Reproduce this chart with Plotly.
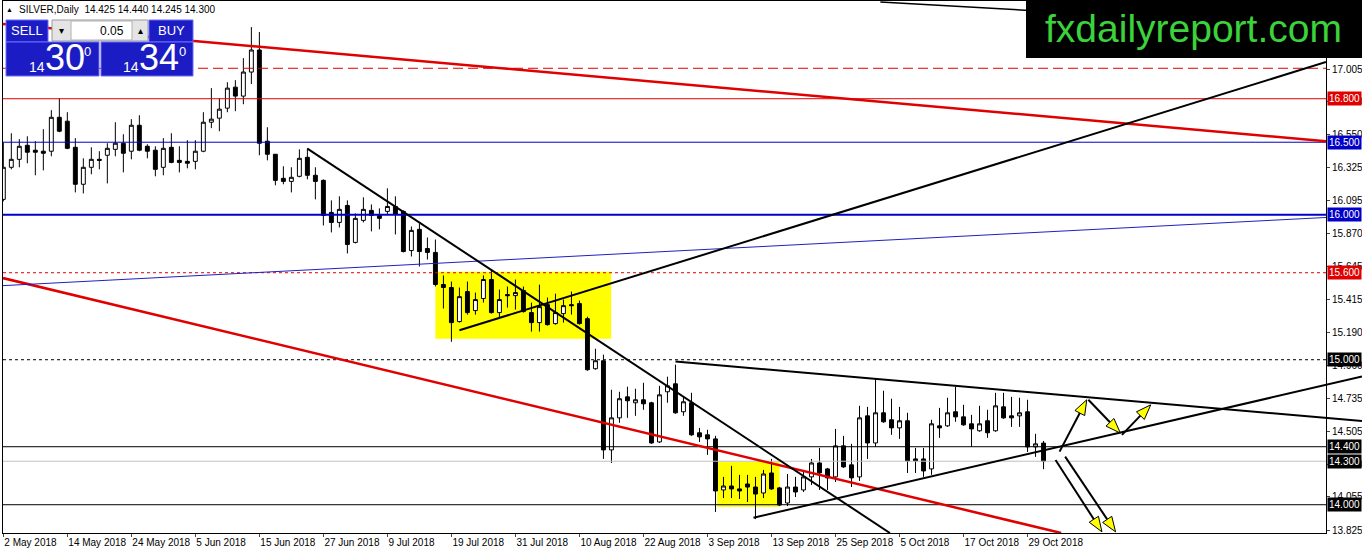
"""SILVER daily chart (MT4 style) rebuilt with plotly. Run: python plot.py"""
import pandas as pd
import plotly.graph_objects as go

# ---- data ----
OPEN = [16.106, 16.327, 16.382, 16.479, 16.445, 16.438, 16.438, 16.672, 16.645, 16.465,
        16.210, 16.327, 16.382, 16.410, 16.451, 16.493, 16.438, 16.617, 16.472, 16.445,
        16.327, 16.465, 16.375, 16.368, 16.368, 16.438, 16.638, 16.666, 16.735, 16.880,
        16.818, 16.984, 17.136, 16.507, 16.417, 16.251, 16.230, 16.265, 16.396, 16.272,
        16.237, 16.016, 15.947, 16.064, 15.809, 15.961, 16.030, 15.995, 16.023, 16.057,
        16.023, 15.753, 15.899, 15.767, 15.740, 15.519, 15.498, 15.263, 15.470, 15.339,
        15.422, 15.553, 15.325, 15.449, 15.442, 15.477, 15.325, 15.256, 15.380, 15.249,
        15.318, 15.380, 15.387, 15.283, 14.938, 14.993, 14.378, 14.599, 14.744, 14.703,
        14.724, 14.703, 14.433, 14.779, 14.834, 14.641, 14.703, 14.496, 14.482, 14.454,
        14.102, 14.129, 14.109, 14.143, 14.122, 14.081, 14.219, 14.116, 14.012, 14.122,
        14.102, 14.192, 14.288, 14.247, 14.192, 14.406, 14.275, 14.192, 14.613, 14.426,
        14.634, 14.586, 14.530, 14.579, 14.316, 14.316, 14.247, 14.544, 14.544, 14.641,
        14.606, 14.558, 14.510, 14.579, 14.510, 14.675, 14.613, 14.613, 14.641, 14.399,
        14.425]
HIGH = [16.500, 16.562, 16.521, 16.541, 16.507, 16.590, 16.721, 16.804, 16.707, 16.528,
        16.389, 16.465, 16.438, 16.493, 16.638, 16.555, 16.659, 16.686, 16.486, 16.472,
        16.528, 16.562, 16.472, 16.514, 16.514, 16.707, 16.873, 16.804, 16.914, 16.928,
        17.080, 17.294, 17.260, 16.603, 16.417, 16.334, 16.327, 16.451, 16.458, 16.327,
        16.244, 16.099, 16.127, 16.099, 16.009, 16.120, 16.071, 16.044, 16.182, 16.127,
        16.030, 15.919, 15.940, 15.843, 15.829, 15.581, 15.539, 15.498, 15.539, 15.463,
        15.581, 15.622, 15.484, 15.505, 15.553, 15.505, 15.394, 15.518, 15.429, 15.456,
        15.415, 15.470, 15.408, 15.297, 15.076, 15.035, 14.793, 14.779, 14.814, 14.800,
        14.841, 14.710, 14.820, 14.883, 14.966, 14.744, 14.772, 14.530, 14.517, 14.475,
        14.192, 14.268, 14.206, 14.206, 14.192, 14.240, 14.316, 14.123, 14.212, 14.192,
        14.240, 14.316, 14.392, 14.254, 14.523, 14.475, 14.420, 14.682, 14.675, 14.869,
        14.786, 14.731, 14.675, 14.634, 14.392, 14.392, 14.586, 14.668, 14.738, 14.814,
        14.689, 14.620, 14.682, 14.655, 14.772, 14.772, 14.744, 14.738, 14.724, 14.489,
        14.440]
LOW = [16.092, 16.313, 16.327, 16.355, 16.272, 16.306, 16.403, 16.569, 16.452, 16.154,
       16.147, 16.279, 16.313, 16.216, 16.403, 16.292, 16.382, 16.438, 16.389, 16.265,
       16.272, 16.355, 16.292, 16.320, 16.313, 16.431, 16.597, 16.576, 16.707, 16.714,
       16.762, 16.901, 16.410, 16.375, 16.203, 16.210, 16.154, 16.258, 16.244, 16.106,
       15.926, 15.878, 15.912, 15.733, 15.802, 15.947, 15.885, 15.899, 16.002, 15.864,
       15.740, 15.712, 15.643, 15.691, 15.505, 15.353, 15.124, 15.256, 15.311, 15.311,
       15.394, 15.318, 15.290, 15.359, 15.346, 15.325, 15.194, 15.194, 15.235, 15.242,
       15.256, 15.311, 15.242, 14.924, 14.931, 14.316, 14.288, 14.565, 14.599, 14.613,
       14.655, 14.420, 14.426, 14.703, 14.627, 14.613, 14.475, 14.433, 14.344, 13.950,
       14.046, 14.046, 14.040, 14.019, 13.901, 14.046, 14.102, 13.991, 13.991, 14.053,
       14.088, 14.136, 14.102, 14.102, 14.157, 14.254, 14.122, 14.164, 14.316, 14.399,
       14.565, 14.482, 14.454, 14.219, 14.219, 14.192, 14.206, 14.461, 14.537, 14.572,
       14.544, 14.399, 14.503, 14.461, 14.503, 14.592, 14.537, 14.537, 14.364, 14.330,
       14.245]
CLOSE = [16.327, 16.382, 16.472, 16.431, 16.431, 16.424, 16.672, 16.576, 16.458, 16.210,
         16.327, 16.382, 16.375, 16.458, 16.493, 16.424, 16.617, 16.445, 16.438, 16.313,
         16.458, 16.361, 16.361, 16.355, 16.438, 16.638, 16.659, 16.728, 16.873, 16.818,
         16.984, 17.136, 16.493, 16.417, 16.237, 16.230, 16.258, 16.389, 16.272, 16.230,
         15.995, 15.947, 16.037, 15.795, 15.975, 16.037, 15.995, 15.975, 16.057, 16.002,
         15.746, 15.892, 15.746, 15.740, 15.519, 15.498, 15.256, 15.435, 15.325, 15.415,
         15.553, 15.325, 15.415, 15.442, 15.463, 15.332, 15.256, 15.366, 15.242, 15.325,
         15.373, 15.373, 15.249, 14.931, 14.993, 14.378, 14.599, 14.731, 14.717, 14.724,
         14.696, 14.426, 14.758, 14.820, 14.634, 14.710, 14.482, 14.468, 14.454, 14.095,
         14.129, 14.109, 14.095, 14.122, 14.074, 14.212, 14.109, 13.998, 14.122, 14.088,
         14.192, 14.288, 14.219, 14.185, 14.406, 14.261, 14.185, 14.599, 14.426, 14.634,
         14.572, 14.530, 14.579, 14.302, 14.302, 14.233, 14.558, 14.530, 14.634, 14.606,
         14.551, 14.523, 14.558, 14.496, 14.682, 14.599, 14.599, 14.634, 14.399, 14.420,
         14.300]

DATES = pd.bdate_range("2018-05-02", periods=len(OPEN)).strftime("%d %b %Y").tolist()

# x tick labels every 8 bars
TICK_BARS = [0, 8, 16, 24, 32, 40, 48, 56, 64, 72, 80, 88, 96, 104, 112, 120, 128]
TICK_TEXT = ["2 May 2018", "14 May 2018", "24 May 2018", "5 Jun 2018", "15 Jun 2018",
             "27 Jun 2018", "9 Jul 2018", "19 Jul 2018", "31 Jul 2018", "10 Aug 2018",
             "22 Aug 2018", "3 Sep 2018", "13 Sep 2018", "25 Sep 2018", "5 Oct 2018",
             "17 Oct 2018", "29 Oct 2018"]
PRICE_TICKS = [17.005, 16.780, 16.550, 16.325, 16.095, 15.870, 15.645, 15.415,
               15.190, 14.960, 14.735, 14.505, 14.280, 14.055, 13.825]

# horizontal levels: price, colour, width, dash, tag background (None = no tag)
LEVELS = [
    (17.010, "#e00000", 1, "10px,5px", None),
    (16.800, "#e00000", 1, "solid", "#e00000"),
    (16.500, "#0000c8", 1, "solid", "#0000c8"),
    (16.000, "#0000c8", 2, "solid", "#0000c8"),
    (15.600, "#e00000", 1, "3px,3px", "#e00000"),
    (15.000, "#000000", 1, "3px,3px", "#000000"),
    (14.400, "#000000", 1, "solid", "#000000"),
    (14.300, "#c0c0c0", 1, "solid", "#000000"),
    (14.000, "#000000", 1, "solid", "#000000"),
]

# trend lines: (bar0, price0, bar1, price1, colour, width)
TRENDS = [
    (-0.04, 17.315, 165.3, 16.507, "#e00000", 2.5),
    (-0.04, 15.563, 132.2, 13.805, "#e00000", 2.5),
    (-0.04, 15.511, 165.3, 15.981, "#2020c0", 1),
    (109.6, 17.467, 165.3, 17.294, "#000000", 1.5),
    (57.0, 15.203, 165.3, 17.053, "#000000", 2),
    (38.0, 16.456, 110.8, 13.805, "#000000", 2),
]
# triangle lines run on past the price axis
TRIANGLE = [
    (84.0, 14.988, 165.3, 14.599),
    (93.75, 13.910, 165.3, 14.827),
]
BOXES = [(54.0, 75.96, 15.145, 15.606), (89.2, 97.0, 13.986, 14.297)]
ARROWS = [  # tail bar, tail price, tip bar, tip price
    (132.0, 14.366, 135.4, 14.724),
    (135.6, 14.724, 139.6, 14.494),
    (139.8, 14.482, 143.4, 14.689),
    (131.5, 14.309, 137.3, 13.813),
    (132.7, 14.332, 139.0, 13.813),
]

# ---- geometry ----
W, H = 1362, 554
ML, MR, MT, MB = 3, 36, 1, 21
PW, PH = W - ML - MR, H - MT - MB
XR = [-0.04, 165.3]
YR = [13.805, 17.474]
SX = PW / (XR[1] - XR[0])
SY = PH / (YR[1] - YR[0])


def px(x):
    return (x - ML) / PW


def py(y):
    return 1 - (y - MT) / PH


FONT = "Liberation Sans, Arial, sans-serif"

fig = go.Figure()
fig.add_trace(go.Candlestick(
    x=list(range(len(OPEN))), open=OPEN, high=HIGH, low=LOW, close=CLOSE,
    text=DATES, hoverinfo="text+y",
    increasing=dict(fillcolor="white", line=dict(color="black", width=1)),
    decreasing=dict(fillcolor="black", line=dict(color="black", width=1)),
    whiskerwidth=0, showlegend=False,
))

shapes = []
for b0, b1, p0, p1 in BOXES:
    shapes.append(dict(type="rect", x0=b0, x1=b1, y0=p0, y1=p1, xref="x", yref="y",
                       fillcolor="#ffff00", line=dict(width=0), layer="below"))

annotations = []
for price, col, w, dash, tag in LEVELS:
    shapes.append(dict(type="line", x0=0, x1=1, xref="paper", y0=price, y1=price, yref="y",
                       line=dict(color=col, width=w, dash=dash)))
    if tag:
        annotations.append(dict(x=1, xref="paper", y=price, yref="y", xanchor="left", xshift=1,
                                text=f"{price:.3f}", showarrow=False, bgcolor=tag, borderpad=1,
                                font=dict(family=FONT, size=10, color="white")))

for b0, p0, b1, p1, col, w in TRENDS:
    shapes.append(dict(type="line", x0=b0, y0=p0, x1=b1, y1=p1, xref="x", yref="y",
                       line=dict(color=col, width=w)))

x_end = XR[1] + MR / SX  # bar at the right edge of the image
for b0, p0, b1, p1 in TRIANGLE:
    p_end = p0 + (p1 - p0) * (x_end - b0) / (b1 - b0)
    shapes.append(dict(type="line", xref="paper", yref="paper",
                       x0=(b0 - XR[0]) / (XR[1] - XR[0]), y0=(p0 - YR[0]) / (YR[1] - YR[0]),
                       x1=(x_end - XR[0]) / (XR[1] - XR[0]), y1=(p_end - YR[0]) / (YR[1] - YR[0]),
                       line=dict(color="black", width=2)))

# arrows: black shaft + yellow head, built in pixel space
for b0, p0, b1, p1 in ARROWS:
    dx, dy = (b1 - b0) * SX, (p1 - p0) * SY
    ln = (dx * dx + dy * dy) ** 0.5
    ux, uy = dx / ln, dy / ln
    hl, hw = 15, 5.5
    bx, by = -ux * hl, -uy * hl
    c1 = (b1 + (bx - uy * hw) / SX, p1 + (by + ux * hw) / SY)
    c2 = (b1 + (bx + uy * hw) / SX, p1 + (by - ux * hw) / SY)
    shapes.append(dict(type="line", x0=b0, y0=p0, x1=b1 + bx / SX, y1=p1 + by / SY,
                       xref="x", yref="y", line=dict(color="black", width=2)))
    shapes.append(dict(type="path", xref="x", yref="y",
                       path=f"M {b1},{p1} L {c1[0]},{c1[1]} L {c2[0]},{c2[1]} Z",
                       fillcolor="#ffff00", line=dict(color="black", width=1)))

# one-click trading panel (top-left)
BLUE = "#1c1cc4"
panel = [
    ((6, 20, 48, 42), BLUE, "#6a6aff"),
    ((52, 20, 148, 41), "#e4e4e4", "#9a9a9a"),
    ((71, 21, 132, 40), "white", "#b0b0b0"),
    ((149, 20, 193, 42), BLUE, "#6a6aff"),
    ((6, 42, 99, 76), BLUE, "#6a6aff"),
    ((101, 42, 193, 76), BLUE, "#6a6aff"),
]
for (x0, y0, x1, y1), fill, edge in panel:
    shapes.append(dict(type="rect", xref="paper", yref="paper", x0=px(x0), x1=px(x1),
                       y0=py(y1), y1=py(y0), fillcolor=fill, line=dict(color=edge, width=1)))

# logo box
shapes.append(dict(type="rect", xref="paper", yref="paper", x0=px(1026), x1=px(1363),
                   y0=py(58), y1=py(-1), fillcolor="black", line=dict(width=0)))


def label(x, y, text, size, color="white", anchor="center"):
    annotations.append(dict(x=px(x), y=py(y), xref="paper", yref="paper", text=text,
                            showarrow=False, xanchor=anchor, yanchor="middle",
                            font=dict(family=FONT, size=size, color=color)))


label(27, 31, "SELL", 13)
label(171, 31, "BUY", 13)
label(61, 31, "▾", 10, "black")
label(140, 31, "▴", 10, "black")
label(126, 31, "0.05", 12, "black", "right")
label(37, 67, "14", 14)
label(65, 58, "30", 36)
label(87, 51, "0", 13)
label(131, 67, "14", 14)
label(159, 58, "34", 36)
label(182, 51, "0", 13)
label(9, 10, "▲", 7, "black")
label(17, 10, "SILVER,Daily  14.425 14.440 14.245 14.300", 10, "black", "left")
label(1193, 29, "fxdailyreport.com", 39, "#3cd23c")

fig.update_layout(
    width=W, height=H, margin=dict(l=ML, r=MR, t=MT, b=MB, autoexpand=False),
    paper_bgcolor="white", plot_bgcolor="white",
    shapes=shapes, annotations=annotations, showlegend=False,
    font=dict(family=FONT, size=10, color="black"),
    xaxis=dict(range=XR, tickvals=TICK_BARS, ticktext=TICK_TEXT, ticks="outside", ticklen=3,
               ticklabelposition="outside right", tickangle=0, automargin=False,
               showgrid=False, zeroline=False,
               showline=True, linecolor="black", linewidth=1, mirror=True,
               rangeslider=dict(visible=False), tickfont=dict(size=10)),
    yaxis=dict(range=YR, side="right", tickvals=PRICE_TICKS, automargin=False,
               ticktext=[f"{v:.3f}" for v in PRICE_TICKS], ticks="outside", ticklen=3,
               showgrid=False, zeroline=False, showline=True, linecolor="black",
               linewidth=1, mirror=True, tickfont=dict(size=10)),
)

# the page's default body margin would push the chart 8px off the window
fig.write_html("out.html", config={"displayModeBar": False},
               post_script="document.body.style.margin='0';")
